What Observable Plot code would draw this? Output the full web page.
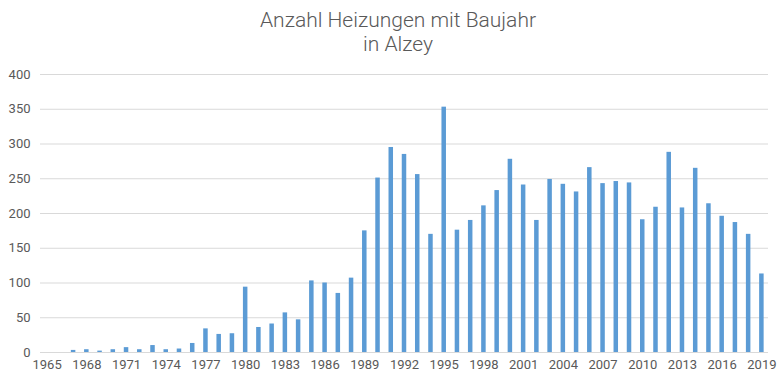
<!DOCTYPE html>
<html>
<head>
<meta charset="utf-8">
<script src="https://cdn.jsdelivr.net/npm/d3@7"></script>
<script src="https://cdn.jsdelivr.net/npm/@observablehq/plot@0.6"></script>
<style>
  html, body { margin: 0; padding: 0; background: #fff; overflow: hidden; }
  #title { width: 780px; height: 62px; box-sizing: border-box; padding-top: 8px; padding-left: 16px; text-align: center;
    font-family: Roboto, "Noto Sans", sans-serif; font-weight: 300; font-size: 21px; line-height: 24px; color: #595959; }
  #chart svg { display: block; max-width: none !important; }
</style>
</head>
<body>
<div id="title">Anzahl Heizungen mit Baujahr<br>in Alzey</div>
<div id="chart"></div>
<script>
const years = d3.range(1965, 2020);
const counts = [0, 0, 3, 4, 2, 4, 7, 4, 10, 4, 5, 13, 34, 26, 27, 94,
  36, 41, 57, 47, 103, 100, 85, 107, 175, 251, 295, 285, 256, 170, 353, 176, 190, 211, 233, 278,
  241, 190, 249, 242, 231, 266, 243, 246, 244, 191, 209, 288, 208, 265, 214, 196, 187, 170, 113];
const yTicks = [0, 50, 100, 150, 200, 250, 300, 350, 400];
const xTicks = d3.range(1965, 2020, 3);

const data = years.map((y, i) => ({year: y, count: counts[i]}));

const chart = Plot.plot({
  width: 780,
  height: 314,
  marginTop: 12,
  marginBottom: 24,
  marginLeft: 40,
  marginRight: 12,
  style: {fontFamily: "Roboto, 'Noto Sans', sans-serif", fontSize: "13px", color: "#595959", background: "#fff"},
  x: {type: "band", domain: years, paddingInner: 0.66, paddingOuter: 0.33, round: false, label: null},
  y: {domain: [0, 400], label: null},
  marks: [
    Plot.ruleY(yTicks, {stroke: "#d9d9d9", strokeWidth: 1}),
    Plot.barY(data, {x: "year", y: "count", fill: "#5b9bd5"}),
    Plot.axisX({ticks: xTicks, tickFormat: d => String(d), tickSize: 0, tickPadding: 7, fill: "#595959"}),
    Plot.axisY({ticks: yTicks, tickFormat: d => String(d), tickSize: 0, tickPadding: 10, fill: "#595959"})
  ]
});
document.getElementById("chart").appendChild(chart);
</script>
</body>
</html>
